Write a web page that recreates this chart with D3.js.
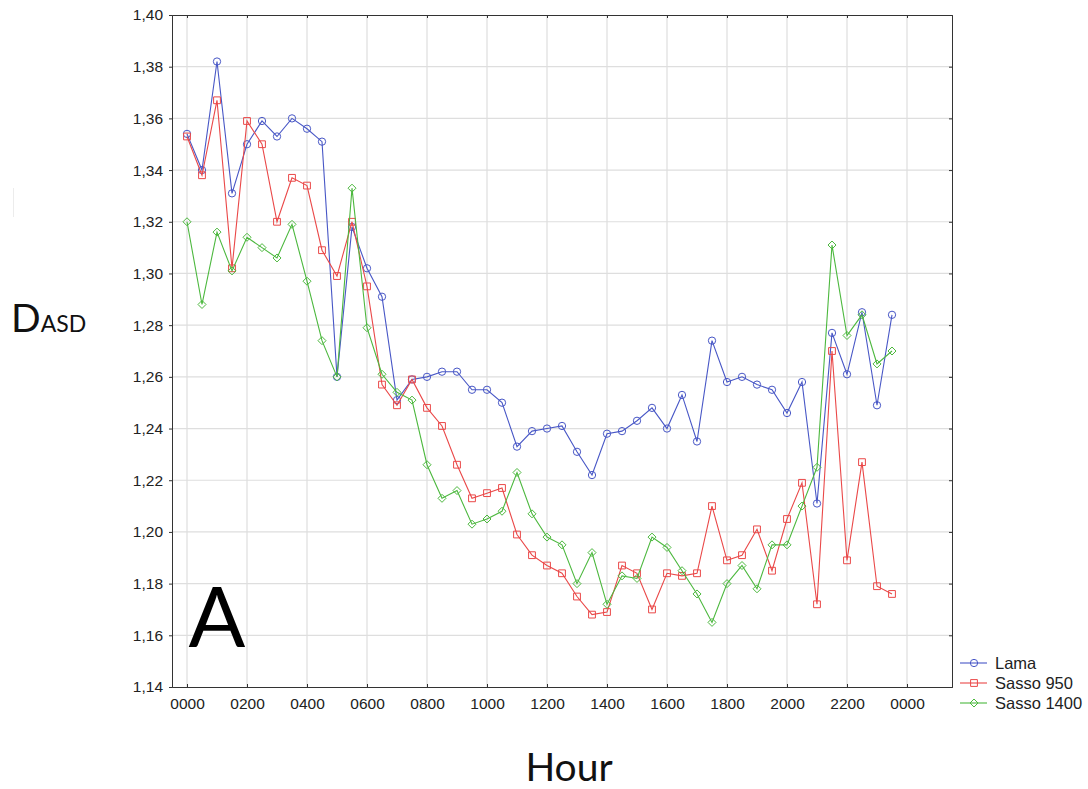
<!DOCTYPE html>
<html>
<head>
<meta charset="utf-8">
<script src="https://cdn.jsdelivr.net/npm/d3@7"></script>
<style>
  html, body { margin: 0; padding: 0; background: #fff; }
  svg { display: block; }
</style>
</head>
<body>
<div id="chart"></div>
<script>
// ---- data (x = half-hour index, 0 = 00:00 ... 47 = 23:30) ----
const tickLabels = ["0000","0200","0400","0600","0800","1000","1200","1400","1600","1800","2000","2200","0000"];
const yTicks = [1.14,1.16,1.18,1.20,1.22,1.24,1.26,1.28,1.30,1.32,1.34,1.36,1.38,1.40];
const seriesNames = ["Lama", "Sasso 950", "Sasso 1400"];

const lama = [1.354,1.340,1.382,1.331,1.350,1.359,1.353,1.360,1.356,1.351,
              1.260,1.318,1.302,1.291,1.251,1.259,1.260,1.262,1.262,1.255,
              1.255,1.250,1.233,1.239,1.240,1.241,1.231,1.222,1.238,1.239,
              1.243,1.248,1.240,1.253,1.235,1.274,1.258,1.260,1.257,1.255,
              1.246,1.258,1.211,1.277,1.261,1.285,1.249,1.284];
const sasso950 = [1.353,1.338,1.367,1.302,1.359,1.350,1.320,1.337,1.334,1.309,
              1.299,1.320,1.295,1.257,1.249,1.259,1.248,1.241,1.226,1.213,
              1.215,1.217,1.199,1.191,1.187,1.184,1.175,1.168,1.169,1.187,
              1.184,1.170,1.184,1.183,1.184,1.210,1.189,1.191,1.201,1.185,
              1.205,1.219,1.172,1.270,1.189,1.227,1.179,1.176];
const sasso1400 = [1.320,1.288,1.316,1.301,1.314,1.310,1.306,1.319,1.297,1.274,
              1.260,1.333,1.279,1.261,1.254,1.251,1.226,1.213,1.216,1.203,
              1.205,1.208,1.223,1.207,1.198,1.195,1.180,1.192,1.172,1.183,
              1.182,1.198,1.194,1.185,1.176,1.165,1.180,1.187,1.178,1.195,
              1.195,1.210,1.225,1.311,1.276,1.284,1.265,1.270];

const colors = ["#4857c6", "#ea4848", "#4cb83e"];
const shapes = ["circle", "square", "diamond"];

// ---- layout ----
const W = 1088, H = 789;
const plot = { left: 172, right: 952, top: 15, bottom: 687 };

const svg = d3.select("#chart").append("svg")
  .attr("width", W).attr("height", H)
  .style("font-family", "'Liberation Sans', Arial, sans-serif");

const x = d3.scaleLinear().domain([-1, 51]).range([plot.left, plot.right]);
const y = d3.scaleLinear().domain([1.14, 1.40]).range([plot.bottom, plot.top]);

const xTickVals = tickLabels.map((d, i) => i * 4);
const fmt = v => v.toFixed(2).replace(".", ",");

// grid
const g = svg.append("g");
g.selectAll(".vg").data(xTickVals).join("line")
  .attr("x1", d => x(d)).attr("x2", d => x(d))
  .attr("y1", plot.top).attr("y2", plot.bottom)
  .attr("stroke", "#dedede").attr("stroke-width", 1.2);
g.selectAll(".hg").data(yTicks.slice(1, -1)).join("line")
  .attr("x1", plot.left).attr("x2", plot.right)
  .attr("y1", d => y(d)).attr("y2", d => y(d))
  .attr("stroke", "#dedede").attr("stroke-width", 1.2);

// axes
const axL = d3.axisLeft(y).tickValues(yTicks).tickFormat(fmt).tickSize(3).tickPadding(6);
const axB = d3.axisBottom(x).tickValues(xTickVals).tickFormat((d, i) => tickLabels[i]).tickSize(-3).tickPadding(11);
const axR = d3.axisRight(y).tickValues(yTicks).tickFormat("").tickSize(-3);
const axT = d3.axisTop(x).tickValues(xTickVals).tickFormat("").tickSize(-3);

function styleAxis(sel) {
  sel.select(".domain").attr("stroke", "#333");
  sel.selectAll(".tick line").attr("stroke", "#333");
  sel.selectAll(".tick text").attr("fill", "#222").style("font-size", "15.5px")
     .style("font-family", "'Liberation Sans', Arial, sans-serif");
}
svg.append("g").attr("transform", `translate(${plot.left},0)`).call(axL).call(styleAxis);
svg.append("g").attr("transform", `translate(0,${plot.bottom})`).call(axB).call(styleAxis);
svg.append("g").attr("transform", `translate(${plot.right},0)`).call(axR).call(styleAxis);
svg.append("g").attr("transform", `translate(0,${plot.top})`).call(axT).call(styleAxis);

// markers
const squareDiamond = {
  draw(ctx, size) {
    const r = Math.sqrt(size / 2);
    ctx.moveTo(0, -r); ctx.lineTo(r, 0); ctx.lineTo(0, r); ctx.lineTo(-r, 0); ctx.closePath();
  }
};
const symType = { circle: d3.symbolCircle, square: d3.symbolSquare, diamond: squareDiamond };
const symSize = { circle: 42, square: 46, diamond: 32 };
function marker(sel, shape, color) {
  sel.attr("d", d3.symbol().type(symType[shape]).size(symSize[shape]))
     .attr("fill", "none").attr("stroke", color).attr("stroke-width", 1);
}

// series
const allSeries = [lama, sasso950, sasso1400];
const line = d3.line().x((d, i) => x(i)).y(d => y(d));
allSeries.forEach((vals, k) => {
  svg.append("path").datum(vals)
    .attr("d", line).attr("fill", "none")
    .attr("stroke", colors[k]).attr("stroke-width", 1.1);
  svg.append("g").selectAll("path").data(vals).join("path")
    .attr("transform", (d, i) => `translate(${x(i)},${y(d)})`)
    .call(marker, shapes[k], colors[k]);
});

// legend
const leg = svg.append("g");
seriesNames.forEach((name, k) => {
  const ly = 663 + k * 20;
  leg.append("line").attr("x1", 960).attr("x2", 987).attr("y1", ly).attr("y2", ly)
    .attr("stroke", colors[k]).attr("stroke-width", 1.1);
  leg.append("path").attr("transform", `translate(974,${ly})`).call(marker, shapes[k], colors[k]);
  leg.append("text").attr("x", 995).attr("y", ly).attr("dy", "0.36em")
    .attr("fill", "#222").style("font-size", "16.5px").text(name);
});

// axis titles
const ylab = svg.append("text").attr("x", 11).attr("y", 332)
  .style("font-family", "Lato, 'Open Sans', sans-serif").attr("fill", "#111");
ylab.append("tspan").style("font-size", "39px").text("D");
ylab.append("tspan").style("font-size", "23px").text("ASD");

svg.append("text").attr("x", 569).attr("y", 781).attr("text-anchor", "middle")
  .style("font-family", "Lato, 'Open Sans', sans-serif").style("font-size", "39px")
  .attr("fill", "#111").text("Hour");

// panel letter
svg.append("text").attr("x", 217).attr("y", 647).attr("text-anchor", "middle")
  .style("font-family", "Lato, 'Open Sans', sans-serif").style("font-size", "84px")
  .attr("fill", "#000").text("A");

// faint artifact line at left
svg.append("line").attr("x1", 13.5).attr("x2", 13.5).attr("y1", 188).attr("y2", 217)
  .attr("stroke", "#ececec").attr("stroke-width", 1);
</script>
</body>
</html>
